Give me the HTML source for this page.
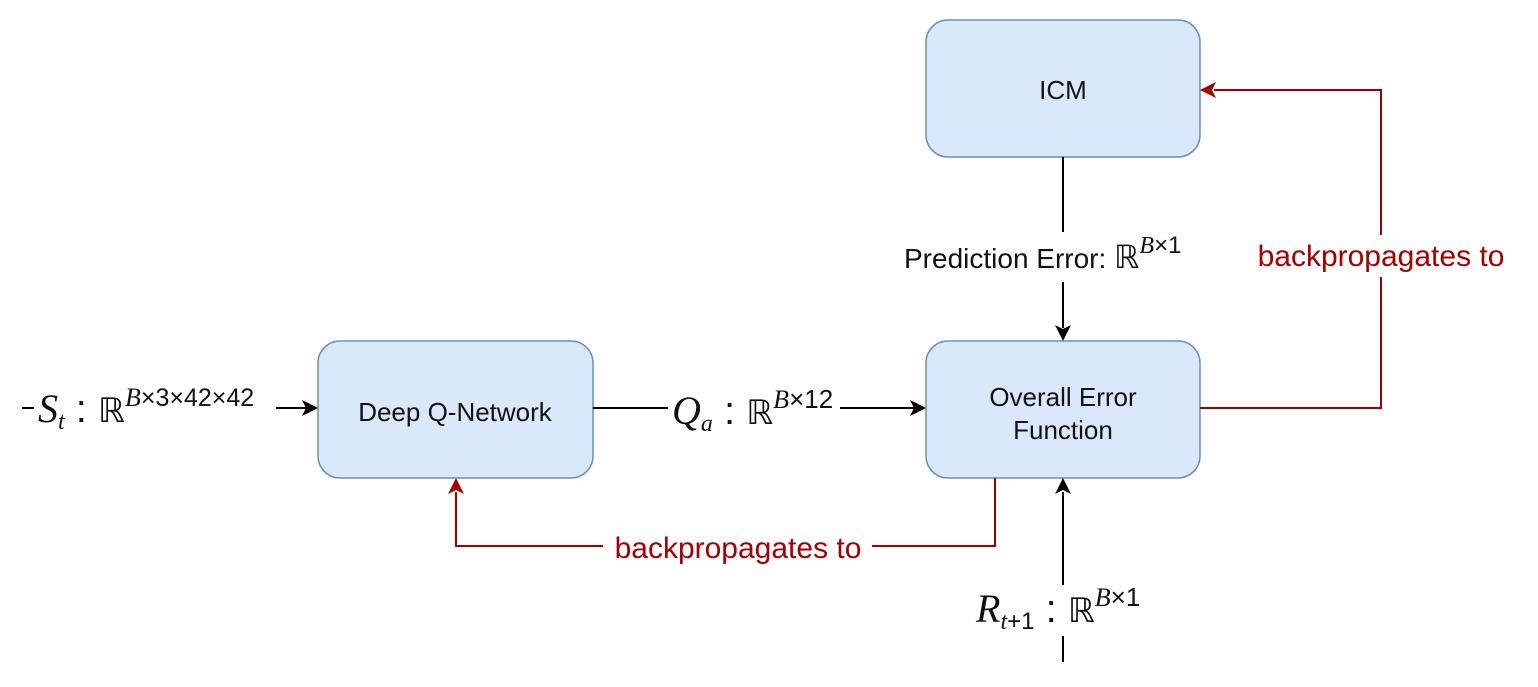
<!DOCTYPE html>
<html><head><meta charset="utf-8"><style>
html,body{margin:0;padding:0;background:#fff;}
svg text{font-family:"Liberation Sans",sans-serif;}
.m{font-family:"Liberation Serif",serif;font-style:italic;}
.r{font-family:"DejaVu Sans",sans-serif;}
</style></head><body>
<svg width="1538" height="682" viewBox="0 0 1538 682" xmlns="http://www.w3.org/2000/svg">
<g fill="#dae8fc" stroke="#6c8ebf" stroke-width="1.5">
<rect x="926" y="20" width="274" height="137" rx="22"/>
<rect x="318" y="341" width="275" height="137" rx="22"/>
<rect x="926" y="341" width="274" height="137" rx="22"/>
</g>
<g font-size="26" fill="#111" text-anchor="middle">
<text x="1063" y="99">ICM</text>
<text x="455" y="421">Deep Q-Network</text>
<text x="1063" y="406">Overall Error</text>
<text x="1063" y="439">Function</text>
</g>
<g stroke="#000" stroke-width="2" fill="none">
<line x1="22" y1="408" x2="34" y2="408"/>
<line x1="276" y1="408" x2="306" y2="408"/>
<line x1="593" y1="408" x2="668" y2="408"/>
<line x1="840" y1="408" x2="914" y2="408"/>
<line x1="1063" y1="157" x2="1063" y2="232"/>
<line x1="1063" y1="282" x2="1063" y2="328"/>
<line x1="1063" y1="585" x2="1063" y2="492"/>
<line x1="1063" y1="636" x2="1063" y2="662"/>
</g>
<g fill="#000">
<path d="M318,408 L302,400 L306,408 L302,416 Z"/>
<path d="M926,408 L910,400 L914,408 L910,416 Z"/>
<path d="M1063,341 L1055,325 L1063,329 L1071,325 Z"/>
<path d="M1063,478 L1055,494 L1063,490 L1071,494 Z"/>
</g>
<g stroke="#a00000" stroke-width="2" fill="none">
<polyline points="1200,408 1381,408 1381,277"/>
<polyline points="1381,235 1381,90 1214,90"/>
<polyline points="995,478 995,546 872,546"/>
<polyline points="603,546 456,546 456,492"/>
</g>
<g fill="#a00000">
<path d="M1200,90 L1216,82 L1212,90 L1216,98 Z"/>
<path d="M456,478 L448,494 L456,490 L464,494 Z"/>
</g>
<g font-size="30" fill="#a00000">
<text x="1381" y="266" text-anchor="middle">backpropagates to</text>
<text x="738" y="558" text-anchor="middle">backpropagates to</text>
</g>
<text x="904" y="268" font-size="28" fill="#111">Prediction Error: <tspan class="r" font-size="32">ℝ</tspan><tspan class="m" font-size="24" dy="-15">B</tspan><tspan font-size="24">×1</tspan></text>
<text x="38" y="422" font-size="40" fill="#111"><tspan class="m">S</tspan><tspan class="m" font-size="24" dy="7">t</tspan><tspan dy="-7"> : </tspan><tspan class="r" font-size="34">ℝ</tspan><tspan class="m" font-size="26" dy="-16">B</tspan><tspan font-size="25">×3×42×42</tspan></text>
<text x="672" y="424" font-size="40" fill="#111"><tspan class="m">Q</tspan><tspan class="m" font-size="24" dy="7">a</tspan><tspan dy="-7"> : </tspan><tspan class="r" font-size="34">ℝ</tspan><tspan class="m" font-size="26" dy="-16">B</tspan><tspan font-size="26">×12</tspan></text>
<text x="976" y="622" font-size="40" fill="#111"><tspan class="m">R</tspan><tspan class="m" font-size="24" dy="7">t</tspan><tspan font-size="24">+1</tspan><tspan dy="-7"> : </tspan><tspan class="r" font-size="34">ℝ</tspan><tspan class="m" font-size="26" dy="-16">B</tspan><tspan font-size="26">×1</tspan></text>
</svg>
</body></html>
